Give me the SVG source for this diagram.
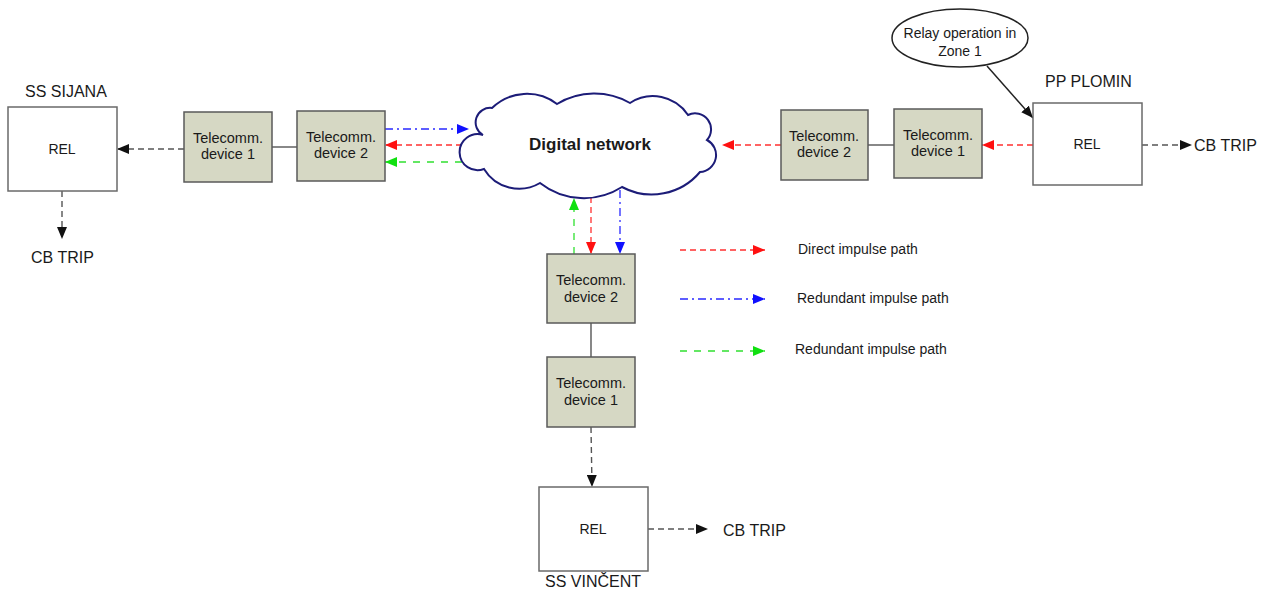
<svg xmlns="http://www.w3.org/2000/svg" width="1276" height="592" viewBox="0 0 1276 592">
<style>
text{font-family:"Liberation Sans",Arial,sans-serif;fill:#1a1a1a}
.lbl{font-size:16px}
.dev{font-size:14.5px;text-anchor:middle}
.rel{font-size:14px;text-anchor:middle}
.leg{font-size:14px}
.tc{fill:#d6d8c4;stroke:#5a5a5a;stroke-width:1.5}
.rb{fill:#fff;stroke:#6a6a6a;stroke-width:1.5}
.blk{stroke:#555;stroke-width:1.4;stroke-dasharray:6 4;fill:none}
.red{stroke:#ff3030;stroke-width:1.3;stroke-dasharray:6 4;fill:none}
.blu{stroke:#2828ff;stroke-width:1.3;stroke-dasharray:8 4 2 4;fill:none}
.grn{stroke:#30e030;stroke-width:1.3;stroke-dasharray:7 7;fill:none}
.sol{stroke:#555;stroke-width:1.4;fill:none}
</style>
<defs>
<marker id="ab" markerUnits="userSpaceOnUse" markerWidth="12" markerHeight="10" refX="12" refY="5" orient="auto"><path d="M0,0 L12,5 L0,10 Z" fill="#111"/></marker>
<marker id="ar" markerUnits="userSpaceOnUse" markerWidth="12" markerHeight="10" refX="12" refY="5" orient="auto"><path d="M0,0 L12,5 L0,10 Z" fill="#ff1010"/></marker>
<marker id="au" markerUnits="userSpaceOnUse" markerWidth="12" markerHeight="10" refX="12" refY="5" orient="auto"><path d="M0,0 L12,5 L0,10 Z" fill="#1010ff"/></marker>
<marker id="ag" markerUnits="userSpaceOnUse" markerWidth="12" markerHeight="10" refX="12" refY="5" orient="auto"><path d="M0,0 L12,5 L0,10 Z" fill="#10e010"/></marker>
</defs>
<rect width="1276" height="592" fill="#fff"/>

<g id="connectors">
<line class="blk" x1="184" y1="149" x2="117" y2="149" marker-end="url(#ab)"/>
<line class="blk" x1="62" y1="191" x2="62" y2="239" marker-end="url(#ab)"/>
<line class="sol" x1="272" y1="147" x2="297" y2="147"/>
<line class="blu" x1="385" y1="129" x2="469" y2="129" marker-end="url(#au)"/>
<line class="red" x1="462" y1="145" x2="385" y2="145" marker-end="url(#ar)"/>
<line class="grn" x1="462" y1="162" x2="385" y2="162" marker-end="url(#ag)"/>
<line class="red" x1="1033" y1="145" x2="982" y2="145" marker-end="url(#ar)"/>
<line class="sol" x1="868" y1="145" x2="894" y2="145"/>
<line class="red" x1="781" y1="145" x2="722" y2="145" marker-end="url(#ar)"/>
<line class="blk" x1="1142" y1="145" x2="1192" y2="145" marker-end="url(#ab)"/>
<line stroke="#222" stroke-width="1.5" x1="987" y1="66" x2="1033" y2="118" marker-end="url(#ab)"/>
<line class="grn" x1="574" y1="254" x2="574" y2="198" marker-end="url(#ag)"/>
<line class="red" x1="591" y1="197" x2="591" y2="254" marker-end="url(#ar)"/>
<line class="blu" x1="620" y1="190" x2="620" y2="254" marker-end="url(#au)"/>
<line class="sol" x1="591" y1="323" x2="591" y2="357"/>
<line class="blk" x1="591" y1="427" x2="592" y2="487" marker-end="url(#ab)"/>
<line class="blk" x1="648" y1="529" x2="708" y2="529" marker-end="url(#ab)"/>
</g>

<g id="legend">
<line class="red" x1="680" y1="250" x2="765" y2="250" marker-end="url(#ar)"/>
<text class="leg" x="798" y="254">Direct impulse path</text>
<line class="blu" x1="680" y1="299" x2="765" y2="299" marker-end="url(#au)"/>
<text class="leg" x="797" y="303">Redundant impulse path</text>
<line class="grn" x1="680" y1="351" x2="765" y2="351" marker-end="url(#ag)"/>
<text class="leg" x="795" y="354">Redundant impulse path</text>
</g>

<g id="ss-sijana">
<text class="lbl" x="25" y="97">SS SIJANA</text>
<rect class="rb" x="8" y="107" width="109" height="84"/>
<text class="rel" x="62" y="154">REL</text>
<text class="lbl" x="31" y="263">CB TRIP</text>
</g>
<g id="sij-dev1">
<rect class="tc" x="184" y="112" width="88" height="70"/>
<text class="dev" x="228" y="143">Telecomm.</text>
<text class="dev" x="228" y="159">device 1</text>
</g>
<g id="sij-dev2">
<rect class="tc" x="297" y="111" width="88" height="70"/>
<text class="dev" x="341" y="142">Telecomm.</text>
<text class="dev" x="341" y="158">device 2</text>
</g>

<g id="digital-network">
<path d="M483,135 A14.5,14.5 0 0 1 492,108 A50,50 0 0 1 557,104 A72,72 0 0 1 630,103 A42,42 0 0 1 688,115 A16,16 0 0 1 707,140 A17,17 0 0 1 700,172 A63,63 0 0 1 622,187 A71,71 0 0 1 540,183 A41,41 0 0 1 484,169 A18,18 0 1 1 483,135 Z" fill="#fff" stroke="#1c1c78" stroke-width="2"/>
<text x="590" y="150" text-anchor="middle" font-size="17" font-weight="bold">Digital network</text>
</g>

<g id="relay-op">
<ellipse cx="960" cy="38" rx="68" ry="29" fill="#fff" stroke="#222" stroke-width="1.5"/>
<text class="leg" x="960" y="38" text-anchor="middle">Relay operation in</text>
<text class="leg" x="960" y="56" text-anchor="middle">Zone 1</text>
</g>

<g id="pp-plomin">
<text class="lbl" x="1045" y="87">PP PLOMIN</text>
<rect class="rb" x="1033" y="103" width="109" height="82"/>
<text class="rel" x="1087" y="149">REL</text>
<text class="lbl" x="1194" y="151">CB TRIP</text>
</g>
<g id="plo-dev1">
<rect class="tc" x="894" y="109" width="88" height="69"/>
<text class="dev" x="938" y="140">Telecomm.</text>
<text class="dev" x="938" y="156">device 1</text>
</g>
<g id="plo-dev2">
<rect class="tc" x="781" y="110" width="87" height="70"/>
<text class="dev" x="824" y="141">Telecomm.</text>
<text class="dev" x="824" y="157">device 2</text>
</g>

<g id="vin-dev2">
<rect class="tc" x="547" y="254" width="88" height="69"/>
<text class="dev" x="591" y="285">Telecomm.</text>
<text class="dev" x="591" y="302">device 2</text>
</g>
<g id="vin-dev1">
<rect class="tc" x="547" y="357" width="88" height="70"/>
<text class="dev" x="591" y="388">Telecomm.</text>
<text class="dev" x="591" y="405">device 1</text>
</g>
<g id="ss-vincent">
<rect class="rb" x="539" y="487" width="109" height="84"/>
<text class="rel" x="593" y="534">REL</text>
<text class="lbl" x="723" y="536">CB TRIP</text>
<text class="lbl" x="545" y="587">SS VINČENT</text>
</g>
</svg>
